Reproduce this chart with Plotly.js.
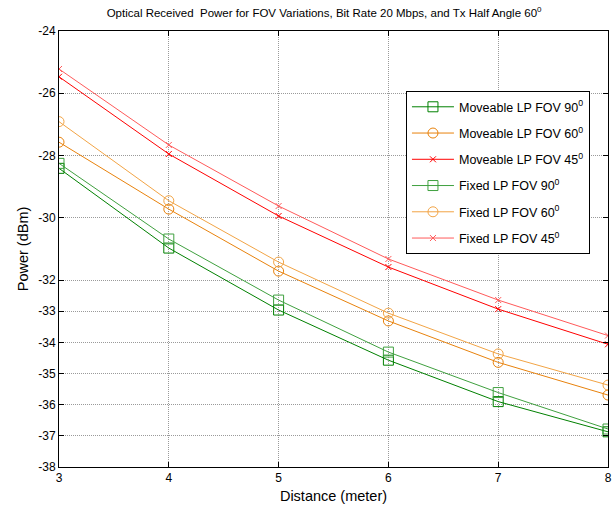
<!DOCTYPE html>
<html><head><meta charset="utf-8">
<script src="https://cdn.plot.ly/plotly-3.0.1.min.js"></script>
<style>html,body{margin:0;padding:0;background:#fff}#plot{width:615px;height:515px}</style>
</head><body><div id="plot"></div>
<script>
const distance = [3, 4, 5, 6, 7, 8];
const movFov90 = [-28.41, -30.97, -32.96, -34.57, -35.90, -36.87];
const movFov60 = [-27.57, -29.72, -31.71, -33.31, -34.64, -35.69];
const movFov45 = [-25.47, -27.95, -29.94, -31.58, -32.93, -34.06];
const fixFov90 = [-28.25, -30.68, -32.64, -34.31, -35.61, -36.78];
const fixFov60 = [-26.91, -29.45, -31.42, -33.06, -34.37, -35.37];
const fixFov45 = [-25.22, -27.66, -29.62, -31.32, -32.64, -33.78];
const yTicks = [-24, -26, -28, -30, -32, -33, -34, -35, -36, -37, -38];
const xTicks = [3, 4, 5, 6, 7, 8];
const names = ['Moveable LP FOV 90<sup>0</sup>', 'Moveable LP FOV 60<sup>0</sup>', 'Moveable LP FOV 45<sup>0</sup>',
               'Fixed LP FOV 90<sup>0</sup>', 'Fixed LP FOV 60<sup>0</sup>', 'Fixed LP FOV 45<sup>0</sup>'];
const series = [movFov90, movFov60, movFov45, fixFov90, fixFov60, fixFov45];
const colors = ['#008000', '#e8820c', '#ff0000', '#3fa03f', '#f2a445', '#ff5a5a'];
const symbols = ['square-open', 'circle-open', 'x-thin-open', 'square-open', 'circle-open', 'x-thin-open'];
const sizes = [10, 10, 6, 10, 10, 6];

const traces = series.map((s, i) => ({
  x: distance, y: s, name: names[i], type: 'scatter', mode: 'lines+markers',
  legendgroup: 'g' + i,
  line: {color: colors[i], width: 1},
  marker: {symbol: symbols[i], size: sizes[i], color: colors[i], line: {color: colors[i], width: 1}}
}));

const layout = {
  width: 615, height: 515,
  margin: {l: 59, r: 7, t: 31, b: 48},
  paper_bgcolor: '#fff', plot_bgcolor: '#fff',
  font: {family: 'Arial, Liberation Sans, sans-serif', color: '#000', size: 12},
  title: {text: 'Optical Received  Power for FOV Variations, Bit Rate 20 Mbps, and Tx Half Angle 60<sup>0</sup>',
          font: {size: 11.5, color: '#000'}, x: 0.527, xanchor: 'center', y: 0.975, yanchor: 'middle'},
  xaxis: {range: [3, 8], tickvals: xTicks, ticktext: xTicks.map(String),
          showline: true, linecolor: '#000', linewidth: 1, mirror: 'ticks',
          ticks: 'inside', ticklen: 5, tickcolor: '#000',
          showgrid: true, gridcolor: '#9a9a9a', griddash: '1px,1px', gridwidth: 1, zeroline: false,
          title: {text: 'Distance (meter)', font: {size: 14.5}, standoff: 6}},
  yaxis: {range: [-38, -24], tickvals: yTicks, ticktext: yTicks.map(String),
          showline: true, linecolor: '#000', linewidth: 1, mirror: 'ticks',
          ticks: 'inside', ticklen: 5, tickcolor: '#000',
          showgrid: true, gridcolor: '#9a9a9a', griddash: '1px,1px', gridwidth: 1, zeroline: false,
          title: {text: 'Power (dBm)', font: {size: 14.5}, standoff: 6}},
  legend: {x: 0.632, y: 0.862, xanchor: 'left', yanchor: 'top',
           bgcolor: '#fff', bordercolor: '#000', borderwidth: 1, itemwidth: 42,
           font: {size: 12.5}, tracegroupgap: 7, traceorder: 'grouped'},
  showlegend: true
};
Plotly.newPlot('plot', traces, layout, {displayModeBar: false});
</script></body></html>
